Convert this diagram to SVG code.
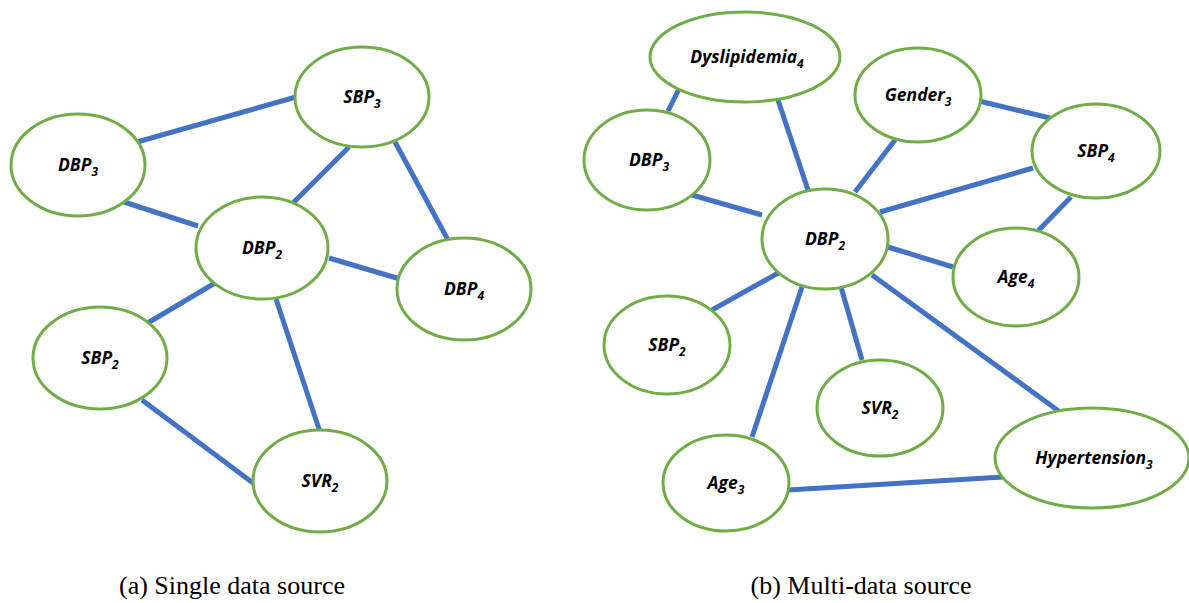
<svg xmlns="http://www.w3.org/2000/svg" width="1189" height="603" viewBox="0 0 1189 603">
<style>
.n{fill:#fff;stroke:#70AD47;stroke-width:3}
.e line{stroke:#4472C4;stroke-width:5}
.t{font-family:"Open Sans","Liberation Sans",sans-serif;font-weight:bold;font-style:italic;font-size:17.5px;fill:#000;text-anchor:middle}
.s{font-size:12px}
.c{font-family:"Liberation Serif","Times New Roman",serif;font-size:26px;fill:#000;text-anchor:middle}
</style>
<rect width="1189" height="603" fill="#fff"/>
<g id="connectors" class="e">
<line x1="137" y1="142" x2="296" y2="97"/>
<line x1="124" y1="202" x2="198" y2="226"/>
<line x1="349" y1="147" x2="293" y2="203"/>
<line x1="395" y1="142" x2="448" y2="240"/>
<line x1="329" y1="258" x2="400" y2="279"/>
<line x1="215" y1="283" x2="146" y2="324"/>
<line x1="276" y1="299" x2="320" y2="432"/>
<line x1="142" y1="400" x2="253" y2="483"/>
<line x1="679" y1="89" x2="668" y2="111"/>
<line x1="778" y1="100" x2="808" y2="190"/>
<line x1="692" y1="195" x2="762" y2="215"/>
<line x1="895" y1="140" x2="855" y2="192"/>
<line x1="979" y1="101" x2="1050" y2="118"/>
<line x1="1033" y1="168" x2="880" y2="212"/>
<line x1="1071" y1="197" x2="1036" y2="233"/>
<line x1="888" y1="247" x2="953" y2="267"/>
<line x1="780" y1="272" x2="712" y2="310"/>
<line x1="802" y1="287" x2="752" y2="437"/>
<line x1="841" y1="287" x2="862" y2="360"/>
<line x1="872" y1="275" x2="1060" y2="412"/>
<line x1="788" y1="490" x2="1003" y2="477"/>
</g>
<g id="a_SBP3"><ellipse class="n" cx="362" cy="97" rx="67" ry="50"/><text class="t" x="362" y="103">SBP<tspan class="s" dy="5">3</tspan></text></g>
<g id="a_DBP3"><ellipse class="n" cx="78" cy="165" rx="67" ry="51"/><text class="t" x="78" y="171">DBP<tspan class="s" dy="5">3</tspan></text></g>
<g id="a_DBP2"><ellipse class="n" cx="262" cy="248" rx="66" ry="51"/><text class="t" x="262" y="254">DBP<tspan class="s" dy="5">2</tspan></text></g>
<g id="a_DBP4"><ellipse class="n" cx="464" cy="289" rx="67" ry="51"/><text class="t" x="464" y="295">DBP<tspan class="s" dy="5">4</tspan></text></g>
<g id="a_SBP2"><ellipse class="n" cx="100" cy="358" rx="67" ry="51"/><text class="t" x="100" y="364">SBP<tspan class="s" dy="5">2</tspan></text></g>
<g id="a_SVR2"><ellipse class="n" cx="320" cy="481" rx="67" ry="51"/><text class="t" x="320" y="487">SVR<tspan class="s" dy="5">2</tspan></text></g>
<g id="b_Dyslipidemia4"><ellipse class="n" cx="745" cy="57" rx="95" ry="45"/><text class="t" x="747" y="63">Dyslipidemia<tspan class="s" dy="5">4</tspan></text></g>
<g id="b_DBP3"><ellipse class="n" cx="647" cy="160" rx="63" ry="50"/><text class="t" x="649" y="166">DBP<tspan class="s" dy="5">3</tspan></text></g>
<g id="b_Gender3"><ellipse class="n" cx="918" cy="95" rx="63" ry="47"/><text class="t" x="918" y="101">Gender<tspan class="s" dy="5">3</tspan></text></g>
<g id="b_SBP4"><ellipse class="n" cx="1096" cy="151" rx="64" ry="47"/><text class="t" x="1096" y="157">SBP<tspan class="s" dy="5">4</tspan></text></g>
<g id="b_DBP2"><ellipse class="n" cx="825" cy="239" rx="63" ry="50"/><text class="t" x="825" y="245">DBP<tspan class="s" dy="5">2</tspan></text></g>
<g id="b_Age4"><ellipse class="n" cx="1016" cy="277" rx="63" ry="49"/><text class="t" x="1016" y="283">Age<tspan class="s" dy="5">4</tspan></text></g>
<g id="b_SBP2"><ellipse class="n" cx="667" cy="345" rx="63" ry="49"/><text class="t" x="667" y="351">SBP<tspan class="s" dy="5">2</tspan></text></g>
<g id="b_SVR2"><ellipse class="n" cx="880" cy="408" rx="63" ry="48"/><text class="t" x="880" y="414">SVR<tspan class="s" dy="5">2</tspan></text></g>
<g id="b_Hypertension3"><ellipse class="n" cx="1092" cy="458" rx="97" ry="50"/><text class="t" x="1094" y="464">Hypertension<tspan class="s" dy="5">3</tspan></text></g>
<g id="b_Age3"><ellipse class="n" cx="726" cy="483" rx="63" ry="48"/><text class="t" x="726" y="489">Age<tspan class="s" dy="5">3</tspan></text></g>
<g id="captions">
<text class="c" x="232" y="594">(a) Single data source</text>
<text class="c" x="861" y="594">(b) Multi-data source</text>
</g>
</svg>
